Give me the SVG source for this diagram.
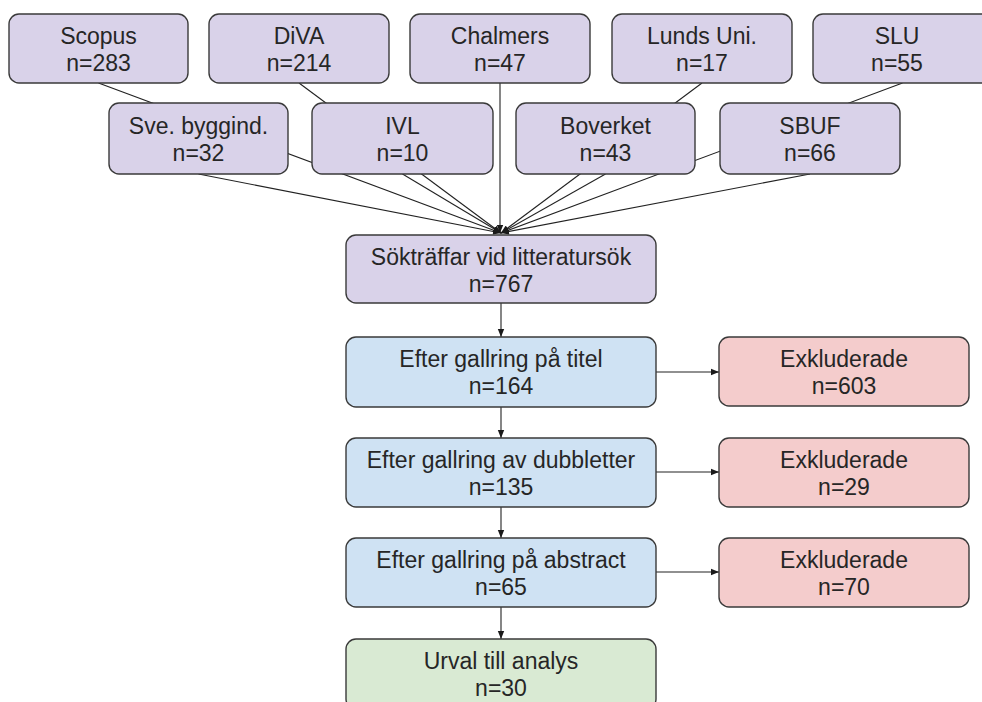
<svg xmlns="http://www.w3.org/2000/svg" width="982" height="702" viewBox="0 0 982 702">
<defs>
<marker id="ah" markerUnits="userSpaceOnUse" markerWidth="8" markerHeight="8" viewBox="0 0 8 8" refX="8" refY="4" orient="auto">
<path d="M0,0.8 L8,4 L0,7.2 Z" fill="#1a1a1a"/>
</marker>
<style>
.box{stroke:#3a3a3a;stroke-width:1.4}
.p{fill:#d9d2e9}.b{fill:#cfe2f3}.r{fill:#f4cccc}.g{fill:#d9ead3}
text{font-family:"Liberation Sans",Arial,sans-serif;font-size:23px;fill:#262626;text-anchor:middle}
.c{fill:none;stroke:#222;stroke-width:1.1;marker-end:url(#ah)}
</style>
</defs>
<rect width="982" height="702" fill="#ffffff"/>
<g id="connectors">
<line class="c" x1="98.5" y1="83" x2="501" y2="233"/>
<line class="c" x1="299" y1="83" x2="501" y2="233"/>
<line class="c" x1="500" y1="83" x2="500" y2="233"/>
<line class="c" x1="702" y1="83" x2="501" y2="233"/>
<line class="c" x1="902.5" y1="83" x2="501" y2="233"/>
<line class="c" x1="198.5" y1="174" x2="501" y2="233"/>
<line class="c" x1="402.5" y1="174" x2="501" y2="233"/>
<line class="c" x1="605.5" y1="174" x2="501" y2="233"/>
<line class="c" x1="810" y1="174" x2="501" y2="233"/>
<line class="c" x1="501" y1="303" x2="501" y2="337"/>
<line class="c" x1="501" y1="407" x2="501" y2="438"/>
<line class="c" x1="501" y1="507" x2="501" y2="538"/>
<line class="c" x1="501" y1="607" x2="501" y2="639"/>
<line class="c" x1="656" y1="372" x2="719" y2="372"/>
<line class="c" x1="656" y1="472" x2="719" y2="472"/>
<line class="c" x1="656" y1="572" x2="719" y2="572"/>
</g>
<g id="scopus"><rect class="box p" x="9" y="14" width="179" height="69" rx="10"/><text x="98.5" y="44">Scopus</text><text x="98.5" y="71">n=283</text></g>
<g id="diva"><rect class="box p" x="209" y="14" width="180" height="69" rx="10"/><text x="299" y="44">DiVA</text><text x="299" y="71">n=214</text></g>
<g id="chalmers"><rect class="box p" x="410" y="14" width="180" height="69" rx="10"/><text x="500" y="44">Chalmers</text><text x="500" y="71">n=47</text></g>
<g id="lunds"><rect class="box p" x="612" y="14" width="180" height="69" rx="10"/><text x="702" y="44">Lunds Uni.</text><text x="702" y="71">n=17</text></g>
<g id="slu"><rect class="box p" x="813" y="14" width="180" height="69" rx="10"/><text x="897" y="44">SLU</text><text x="897" y="71">n=55</text></g>
<g id="svebyggind"><rect class="box p" x="109" y="103" width="179" height="71" rx="10"/><text x="198.5" y="134">Sve. byggind.</text><text x="198.5" y="161">n=32</text></g>
<g id="ivl"><rect class="box p" x="312" y="103" width="181" height="71" rx="10"/><text x="402.5" y="134">IVL</text><text x="402.5" y="161">n=10</text></g>
<g id="boverket"><rect class="box p" x="516" y="103" width="179" height="71" rx="10"/><text x="605.5" y="134">Boverket</text><text x="605.5" y="161">n=43</text></g>
<g id="sbuf"><rect class="box p" x="720" y="103" width="180" height="71" rx="10"/><text x="810" y="134">SBUF</text><text x="810" y="161">n=66</text></g>
<g id="soktraffar"><rect class="box p" x="346" y="235" width="310" height="68" rx="10"/><text x="501" y="265">Sökträffar vid litteratursök</text><text x="501" y="292">n=767</text></g>
<g id="titel"><rect class="box b" x="346" y="337" width="310" height="70" rx="10"/><text x="501" y="367">Efter gallring på titel</text><text x="501" y="394">n=164</text></g>
<g id="excl603"><rect class="box r" x="719" y="337" width="250" height="69" rx="10"/><text x="844" y="367">Exkluderade</text><text x="844" y="394">n=603</text></g>
<g id="dubbletter"><rect class="box b" x="346" y="438" width="310" height="69" rx="10"/><text x="501" y="468">Efter gallring av dubbletter</text><text x="501" y="495">n=135</text></g>
<g id="excl29"><rect class="box r" x="719" y="438" width="250" height="69" rx="10"/><text x="844" y="468">Exkluderade</text><text x="844" y="495">n=29</text></g>
<g id="abstract"><rect class="box b" x="346" y="538" width="310" height="69" rx="10"/><text x="501" y="568">Efter gallring på abstract</text><text x="501" y="595">n=65</text></g>
<g id="excl70"><rect class="box r" x="719" y="538" width="250" height="69" rx="10"/><text x="844" y="568">Exkluderade</text><text x="844" y="595">n=70</text></g>
<g id="urval"><rect class="box g" x="346" y="639" width="310" height="70" rx="10"/><text x="501" y="669">Urval till analys</text><text x="501" y="696">n=30</text></g>
</svg>
